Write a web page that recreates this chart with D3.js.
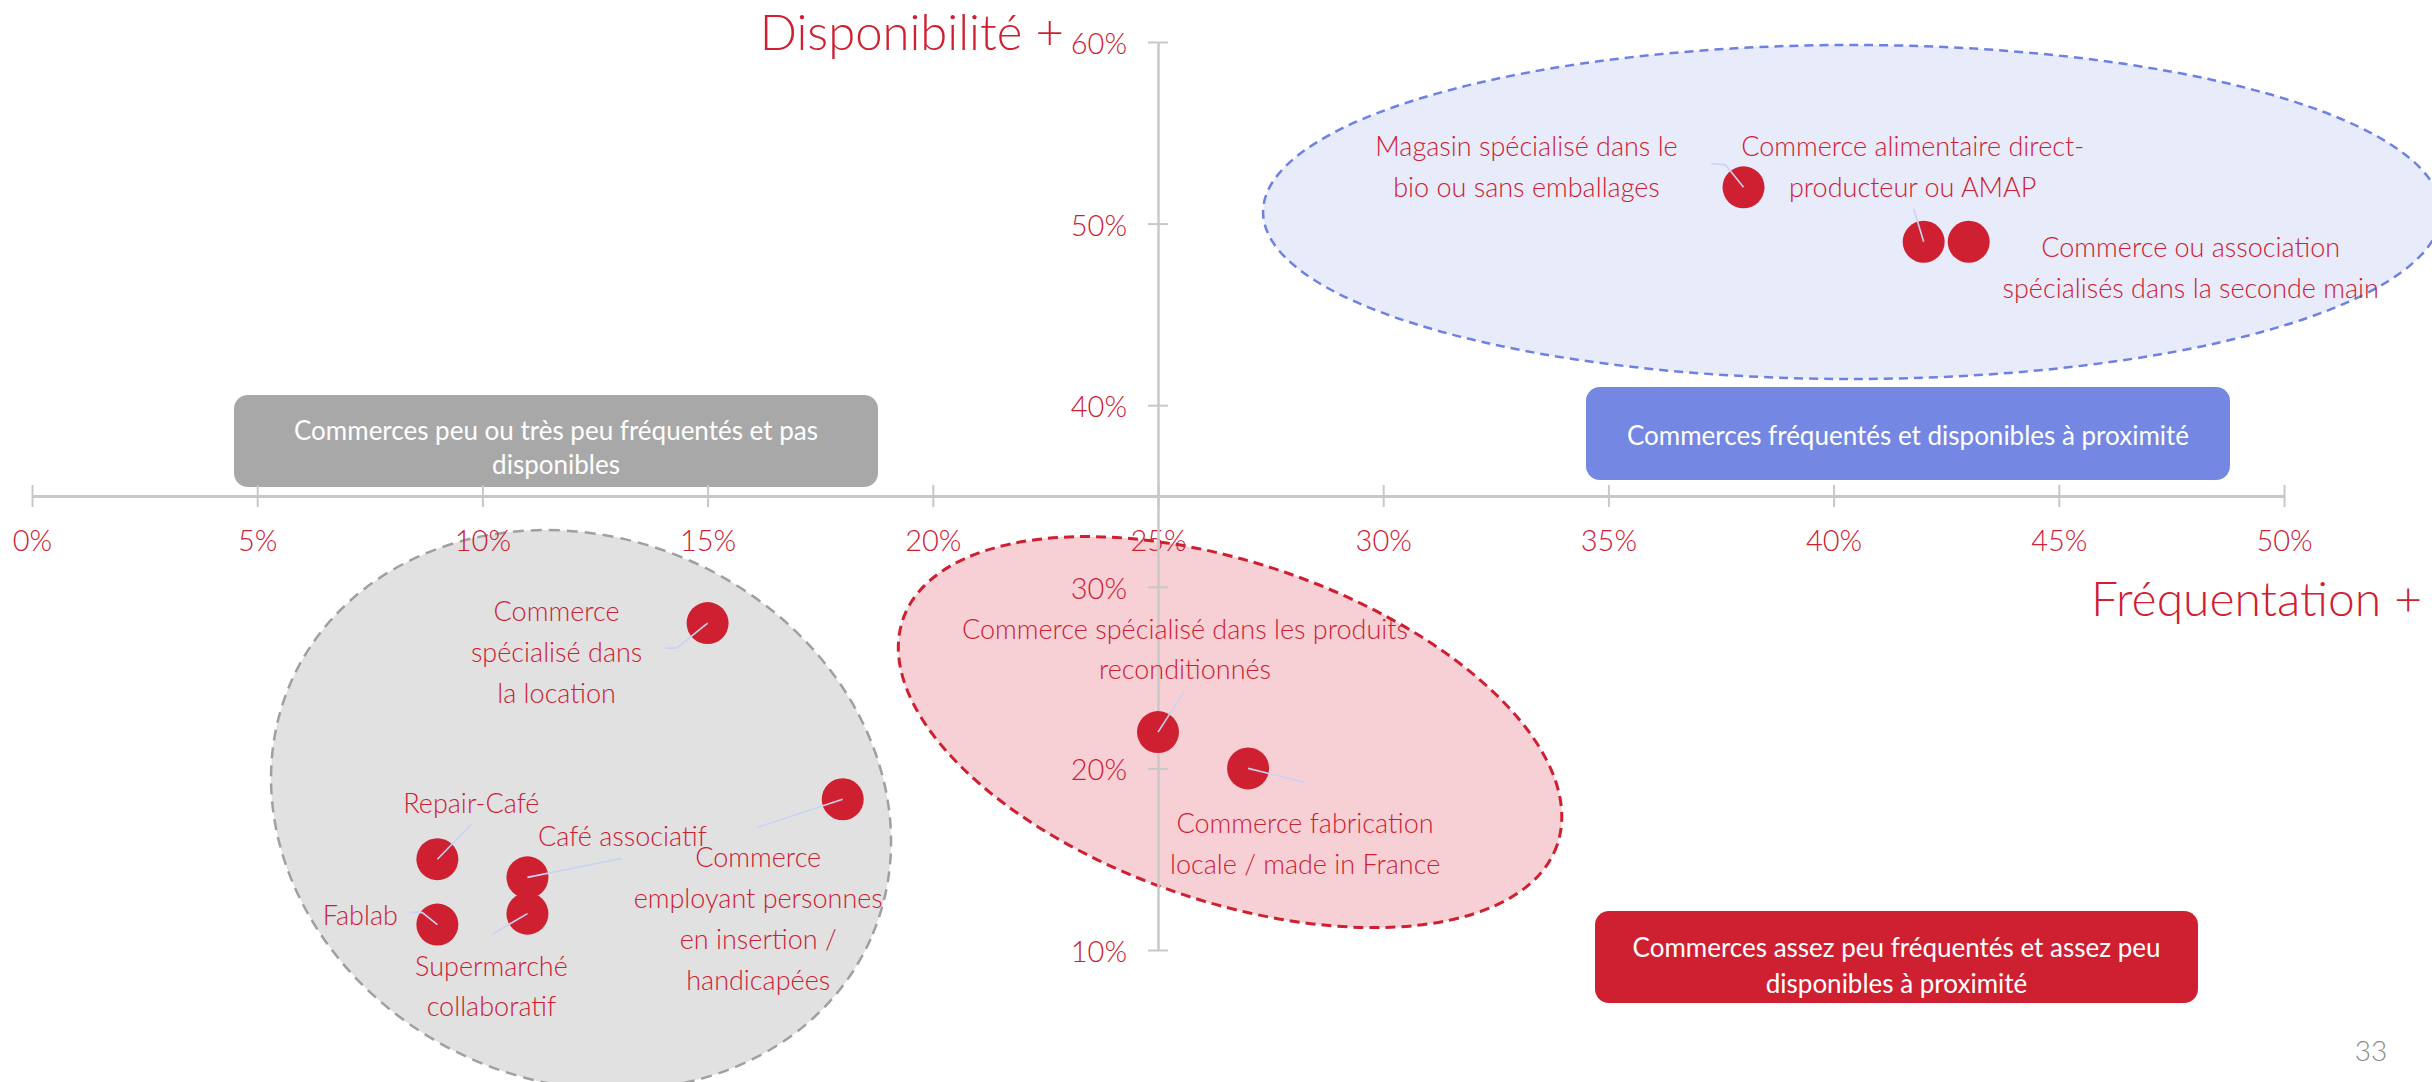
<!DOCTYPE html>
<html lang="fr">
<head>
<meta charset="utf-8">
<script src="https://cdn.jsdelivr.net/npm/d3@7"></script>
<style>
  html, body { margin: 0; padding: 0; background: #ffffff; }
  svg { display: block; font-family: "Lato", "Open Sans", sans-serif; font-weight: 300; }
</style>
</head>
<body>
<svg id="chart" width="2432" height="1082"></svg>
<script>
// Commerces : fréquentation (axe horizontal) et disponibilité à proximité (axe vertical)
const commerces = [
  "Magasin spécialisé dans le bio ou sans emballages",
  "Commerce alimentaire direct-producteur ou AMAP",
  "Commerce ou association spécialisés dans la seconde main",
  "Commerce spécialisé dans la location",
  "Repair-Café",
  "Café associatif",
  "Commerce employant personnes en insertion / handicapées",
  "Fablab",
  "Supermarché collaboratif",
  "Commerce spécialisé dans les produits reconditionnés",
  "Commerce fabrication locale / made in France"
];
const frequentation = [0.38, 0.42, 0.43, 0.15, 0.09, 0.11, 0.18, 0.09, 0.11, 0.25, 0.27];
const disponibilite = [0.52, 0.49, 0.49, 0.28, 0.15, 0.14, 0.183, 0.114, 0.12, 0.22, 0.20];

const xTicks = [0, 0.05, 0.10, 0.15, 0.20, 0.25, 0.30, 0.35, 0.40, 0.45, 0.50];
const yTicks = [0.10, 0.20, 0.30, 0.40, 0.50, 0.60];
const xTitle = "Fréquentation +";
const yTitle = "Disponibilité +";
const pageNumber = "33";

// Zones regroupant les commerces (centre en valeurs d'axes)
const zoneNames = ["fréquentés", "peu fréquentés", "assez peu fréquentés"];
const zoneFreq = [0.4041, 0.1219, 0.266];
const zoneDispo = [0.5064, 0.1771, 0.220];

// Légendes des quadrants
const quadrantTexts = [
  ["Commerces peu ou très peu fréquentés et pas", "disponibles"],
  ["Commerces fréquentés et disponibles à proximité"],
  ["Commerces assez peu fréquentés et assez peu", "disponibles à proximité"]
];

// ---- mise en page ----
const C = {
  red: "#cf2031",
  text: "#cd2034",
  axis: "#c8c8c8",
  leader: "#c9d3f2"
};

const x = d3.scaleLinear().domain([0, 0.5]).range([32, 2284]);
const y = d3.scaleLinear().domain([0.10, 0.60]).range([950, 42]);
const yCross = 0.35;   // l'axe horizontal coupe l'axe vertical à 35 %
const xCross = 0.25;   // l'axe vertical coupe l'axe horizontal à 25 %

const svg = d3.select("#chart");

// Zones (ellipses pointillées)
const zoneStyle = [
  { rx: 589, ry: 167, rot: 0,  fill: "#e8ebf9", stroke: "#6e80e2", dash: "9 6", sw: 2.5 },
  { rx: 317, ry: 272, rot: 24, fill: "#e1e1e1", stroke: "#a0a0a0", dash: "11 7", sw: 2.5 },
  { rx: 346, ry: 169, rot: 19, fill: "#f7d0d5", stroke: "#cf2031", dash: "10 6", sw: 3 }
];
svg.append("g").attr("class", "zones")
  .selectAll("ellipse")
  .data(zoneNames.map((n, i) => ({ name: n, fx: zoneFreq[i], dy: zoneDispo[i], s: zoneStyle[i] })))
  .join("ellipse")
  .attr("cx", 0).attr("cy", 0)
  .attr("rx", d => d.s.rx).attr("ry", d => d.s.ry)
  .attr("transform", d => `translate(${x(d.fx)},${y(d.dy)}) rotate(${d.s.rot})`)
  .attr("fill", d => d.s.fill)
  .attr("stroke", d => d.s.stroke)
  .attr("stroke-width", d => d.s.sw)
  .attr("stroke-dasharray", d => d.s.dash);

// Encadrés des quadrants
const quadrantBoxes = [
  { x0: 234, y0: 395, x1: 878, y1: 487, fill: "#a8a8a8", lines: [430, 464] },
  { x0: 1586, y0: 387, x1: 2230, y1: 480, fill: "#7387e3", lines: [435] },
  { x0: 1595, y0: 911, x1: 2198, y1: 1003, fill: "#cf2031", lines: [947, 983] }
];
const qg = svg.append("g").attr("class", "quadrants");
quadrantBoxes.forEach((b, i) => {
  qg.append("rect")
    .attr("x", b.x0).attr("y", b.y0)
    .attr("width", b.x1 - b.x0).attr("height", b.y1 - b.y0)
    .attr("rx", 14).attr("ry", 14)
    .attr("fill", b.fill);
  quadrantTexts[i].forEach((t, j) => {
    qg.append("text")
      .attr("x", (b.x0 + b.x1) / 2).attr("y", b.lines[j])
      .attr("text-anchor", "middle")
      .attr("dominant-baseline", "central")
      .attr("fill", "#ffffff")
      .attr("font-size", 26)
      .attr("font-weight", 400)
      .text(t);
  });
});

// Axe horizontal
const xAxis = d3.axisBottom(x)
  .tickValues(xTicks)
  .tickFormat(d3.format(".0%"))
  .tickSizeOuter(0)
  .tickSizeInner(10);
const gx = svg.append("g")
  .attr("transform", `translate(0,${y(yCross)})`)
  .call(xAxis);
gx.select(".domain").attr("stroke", C.axis).attr("stroke-width", 3);
gx.selectAll(".tick line").attr("y1", -11).attr("y2", 11)
  .attr("stroke", C.axis).attr("stroke-width", 2);
gx.selectAll(".tick text")
  .attr("y", 43).attr("dy", null)
  .attr("dominant-baseline", "central")
  .attr("fill", C.text)
  .attr("font-size", 29)
  .attr("font-family", "Lato, sans-serif")
  .attr("font-weight", 300);

// Axe vertical
const yAxis = d3.axisLeft(y)
  .tickValues(yTicks)
  .tickFormat(d3.format(".0%"))
  .tickSizeOuter(0)
  .tickSizeInner(10);
const gy = svg.append("g")
  .attr("transform", `translate(${x(xCross)},0)`)
  .call(yAxis);
gy.select(".domain").attr("stroke", C.axis).attr("stroke-width", 2.5);
gy.selectAll(".tick line").attr("x1", -10).attr("x2", 10)
  .attr("stroke", C.axis).attr("stroke-width", 2);
gy.selectAll(".tick text")
  .attr("x", -31).attr("dy", null)
  .attr("dominant-baseline", "central")
  .attr("fill", C.text)
  .attr("font-size", 29)
  .attr("font-family", "Lato, sans-serif")
  .attr("font-weight", 300);

// Titres des axes
svg.append("text")
  .attr("x", x(xCross) - 94).attr("y", 50)
  .attr("text-anchor", "end")
  .attr("fill", C.red)
  .attr("font-size", 49)
  .text(yTitle);
svg.append("text")
  .attr("x", 2422).attr("y", 616)
  .attr("text-anchor", "end")
  .attr("fill", C.red)
  .attr("font-size", 48)
  .text(xTitle);

// Placement des étiquettes (décalages en pixels depuis le point)
const labelLayout = [
  { lines: ["Magasin spécialisé dans le", "bio ou sans emballages"], dx: -217, dy: -41.5, leader: [[-18, -22.5], [-32, -23.5]] },
  { lines: ["Commerce alimentaire direct-", "producteur ou AMAP"], dx: -11, dy: -96, leader: [[-10, -33]] },
  { lines: ["Commerce ou association", "spécialisés dans la seconde main"], dx: 222, dy: 4.5, leader: null },
  { lines: ["Commerce", "spécialisé dans", "la location"], dx: -151, dy: -12.5, leader: [[-31, 25], [-42, 25]] },
  { lines: ["Repair-Café"], dx: 34, dy: -57, leader: [[34, -35]] },
  { lines: ["Café associatif"], dx: 95, dy: -41.5, leader: [[94, -19]] },
  { lines: ["Commerce", "employant personnes", "en insertion /", "handicapées"], dx: -84.5, dy: 57.5, leader: [[-85, 28]] },
  { lines: ["Fablab"], dx: -77, dy: -10.5, leader: [[-15, -12], [-27, -12.5]] },
  { lines: ["Supermarché", "collaboratif"], dx: -36, dy: 51.5, leader: [[-36, 21]] },
  { lines: ["Commerce spécialisé dans les produits", "reconditionnés"], dx: 27, dy: -104, leader: [[26.5, -41]] },
  { lines: ["Commerce fabrication", "locale / made in France"], dx: 57, dy: 54.5, leader: [[57, 14]] }
];
const lineGap = 40.8;

const points = commerces.map((c, i) => ({
  name: c,
  px: x(frequentation[i]),
  py: y(disponibilite[i]),
  lay: labelLayout[i]
}));

// Points
svg.append("g").attr("class", "points")
  .selectAll("circle")
  .data(points)
  .join("circle")
  .attr("cx", d => d.px).attr("cy", d => d.py)
  .attr("r", 21)
  .attr("fill", C.red);

// Traits de rappel
const line = d3.line();
svg.append("g").attr("class", "leaders")
  .selectAll("path")
  .data(points.filter(d => d.lay.leader))
  .join("path")
  .attr("d", d => line([[d.px, d.py], ...d.lay.leader.map(p => [d.px + p[0], d.py + p[1]])]))
  .attr("fill", "none")
  .attr("stroke", C.leader)
  .attr("stroke-width", 1.6);

// Étiquettes
const lg = svg.append("g").attr("class", "labels");
points.forEach(d => {
  const t = lg.append("text")
    .attr("text-anchor", "middle")
    .attr("fill", C.text)
    .attr("font-size", 27);
  d.lay.lines.forEach((s, j) => {
    t.append("tspan")
      .attr("x", d.px + d.lay.dx)
      .attr("y", d.py + d.lay.dy + j * lineGap)
      .attr("dominant-baseline", "central")
      .text(s);
  });
});

// Numéro de page
svg.append("text")
  .attr("x", 2371).attr("y", 1050)
  .attr("text-anchor", "middle")
  .attr("dominant-baseline", "central")
  .attr("fill", "#8a8a8a")
  .attr("font-size", 28)
  .text(pageNumber);
</script>
</body>
</html>
